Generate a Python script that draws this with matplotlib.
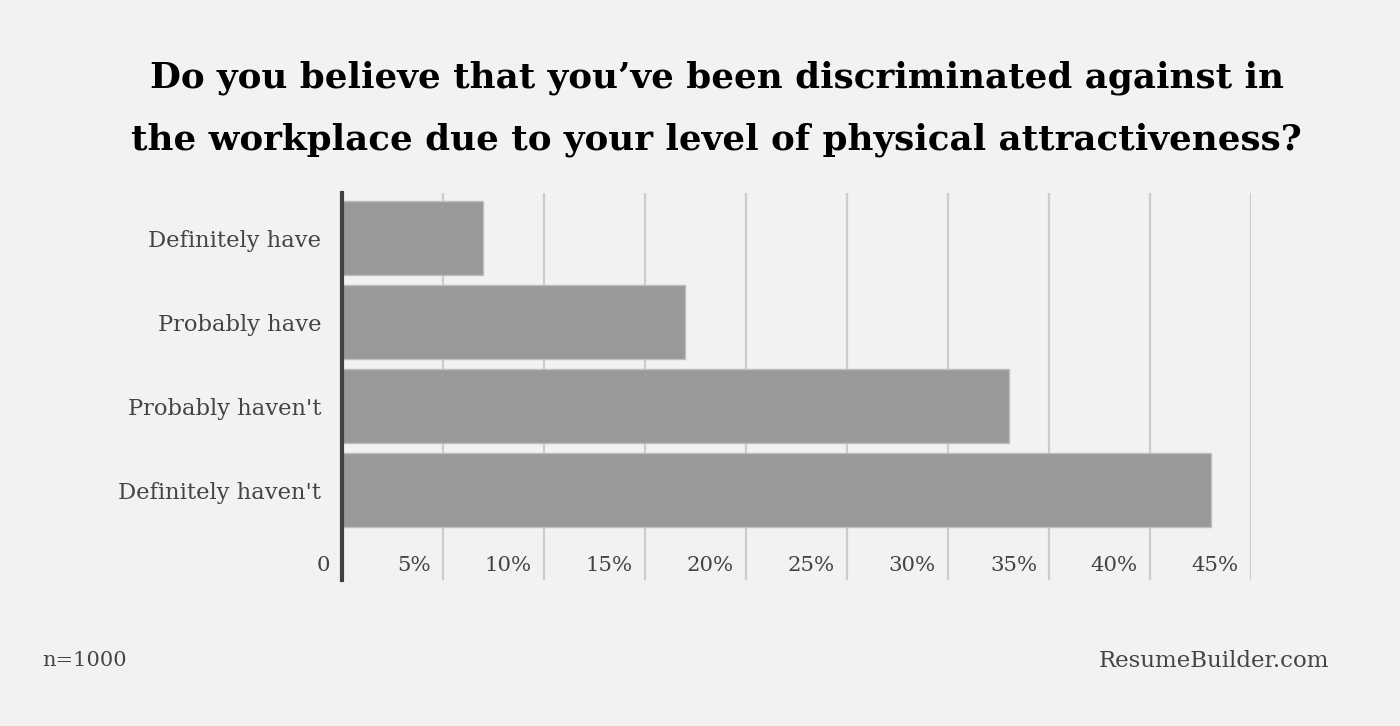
import matplotlib
matplotlib.use("Agg")
import matplotlib.pyplot as plt
from matplotlib.transforms import offset_copy

categories = ["Definitely have", "Probably have", "Probably haven't", "Definitely haven't"]
values = [7, 17, 33, 43]
ticks = [0, 5, 10, 15, 20, 25, 30, 35, 40, 45]
tick_labels = ["0", "5%", "10%", "15%", "20%", "25%", "30%", "35%", "40%", "45%"]

BG = "#f2f2f2"
TXT = "#444444"
plt.rcParams["font.family"] = ["DejaVu Serif"]

fig = plt.figure(figsize=(14, 7.26), dpi=100, facecolor=BG)
ax = fig.add_axes([342 / 1400, 1 - 580 / 726, (1251 - 342) / 1400, (580 - 193) / 726])
ax.set_facecolor(BG)

ypos = list(range(len(categories)))
ax.barh(ypos, values, height=0.88, color="#999999", edgecolor="#bdbdbd", linewidth=1, zorder=2)

ax.set_xlim(0, 45)
ax.set_ylim(4.07, -0.536)
for t in ticks[1:]:
    ax.axvline(t, color="#cccccc", lw=1.6, zorder=1)

for s in ["top", "right", "bottom"]:
    ax.spines[s].set_visible(False)
ax.spines["left"].set_color("#404040")
ax.spines["left"].set_linewidth(3)
ax.spines["left"].set_zorder(3)

ax.set_xticks([])
ax.set_yticks(ypos)
ax.set_yticklabels(categories, fontsize=16.3, color=TXT)
ax.tick_params(axis="y", length=0, pad=15)

trans = offset_copy(ax.transData, fig=fig, x=-12, y=0, units="dots")
for t, lab in zip(ticks, tick_labels):
    ax.text(t, 3.9, lab, transform=trans, ha="right", va="center", fontsize=15.3, color=TXT)

fig.text(717 / 1400, 1 - 78 / 726, "Do you believe that you\u2019ve been discriminated against in",
         ha="center", va="center", fontsize=25.7, fontweight="bold", color="black")
fig.text(716 / 1400, 1 - 140 / 726, "the workplace due to your level of physical attractiveness?",
         ha="center", va="center", fontsize=25.7, fontweight="bold", color="black")

fig.text(42 / 1400, 1 - 661 / 726, "n=1000", ha="left", va="center", fontsize=15, color=TXT)
fig.text(1329 / 1400, 1 - 661 / 726, "ResumeBuilder.com", ha="right", va="center", fontsize=16.5, color=TXT)

fig.savefig("out.png", dpi=100, facecolor=BG)
